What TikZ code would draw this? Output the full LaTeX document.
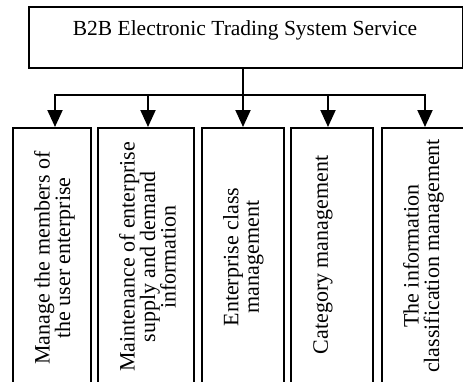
\documentclass[tikz,border=0pt]{standalone}
\usepackage{fontspec}
\setmainfont{Liberation Serif}
\usetikzlibrary{arrows.meta}
\begin{document}
\begin{tikzpicture}[x=1pt,y=-1pt,
  box/.style={draw, line width=1.6pt, inner sep=0, anchor=north west},
  lab/.style={font=\fontsize{22}{20.5}\selectfont, align=center, rotate=90, anchor=north, inner sep=0},
  ttl/.style={font=\fontsize{21.5}{20}\selectfont, anchor=base, inner sep=0},
  conn/.style={line width=2pt},
  arr/.style={conn, -{Triangle[width=15pt,length=17pt]}}]
\useasboundingbox (0,0) rectangle (463,381);
\clip (0,0) rectangle (463,381);
% top box
\node[box, minimum width=434pt, minimum height=61pt] (top) at (28,6) {};
\node[ttl] (title) at (245,35) {B2B Electronic Trading System Service};
% lower boxes
\node[box, minimum width=78pt, minimum height=270pt] (b1) at (12,127) {};
\node[box, minimum width=96pt, minimum height=270pt] (b2) at (97,127) {};
\node[box, minimum width=82pt, minimum height=270pt] (b3) at (201,127) {};
\node[box, minimum width=82pt, minimum height=270pt] (b4) at (290,127) {};
\node[box, minimum width=90pt, minimum height=270pt] (b5) at (381,127) {};
% labels
\node[lab] (t1) at (34,258) {Manage the members of\\the user enterprise};
\node[lab] (t2) at (119,257) {Maintenance of enterprise\\supply and demand\\information};
\node[lab] (t3) at (223,257) {Enterprise class\\management};
\node[lab] (t4) at (313,255) {Category management};
\node[lab] (t5) at (403,256) {The information\\classification management};
% connectors
\coordinate (hub) at (243,95);
\coordinate (h1) at (55,95);
\coordinate (h2) at (148,95);
\coordinate (h3) at (243,95);
\coordinate (h4) at (328,95);
\coordinate (h5) at (425,95);
\draw[conn] (top.south -| hub) -- (hub);
\draw[conn, line cap=rect] (h1) -- (h5);
\draw[arr] (h1) -- (h1 |- b1.north);
\draw[arr] (h2) -- (h2 |- b2.north);
\draw[arr] (h3) -- (h3 |- b3.north);
\draw[arr] (h4) -- (h4 |- b4.north);
\draw[arr] (h5) -- (h5 |- b5.north);
\end{tikzpicture}
\end{document}
